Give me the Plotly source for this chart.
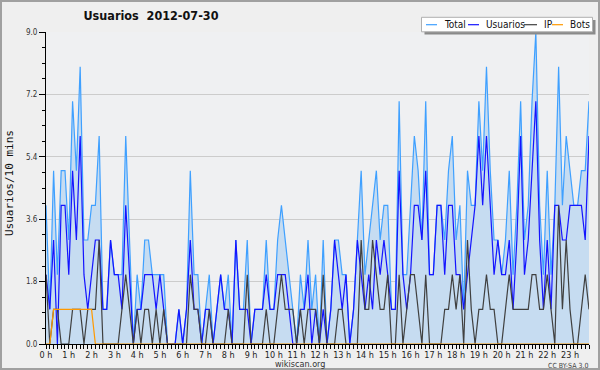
import plotly.graph_objects as go

# ---- data (10-minute slots over the day) ----
minutes = list(range(0, 1440, 10))
total = [4,1,5,2,5,5,3,7,5,8, 3,3,4,4,6,1,1,3,2,2,
         2,6,3,0,2,1,3,3,2,2, 2,2,0,0,0,1,0,1,5,2,
         2,0,1,2,0,1,2,1,2,0, 3,1,1,3,0,1,1,1,3,1,
         1,3,4,3,2,1,0,2,1,3, 1,2,0,3,0,1,3,3,2,2,
         0,1,3,5,2,3,4,5,3,4, 4,1,1,7,2,2,4,6,5,3,
         7,2,2,4,4,3,5,6,3,4, 1,5,4,4,7,5,8,5,3,3,
         2,3,5,2,4,7,3,4,7,9, 4,2,5,2,4,8,4,6,5,4,
         4,5,5,7]
usuarios = [2,1,3,0,4,4,2,5,3,6, 2,1,2,3,3,1,1,3,2,2,
            1,4,2,0,1,1,2,2,2,1, 2,1,0,0,0,1,0,1,3,1,
            1,0,1,1,0,1,2,1,1,0, 3,1,1,1,0,1,1,1,2,1,
            1,2,2,2,1,0,0,1,1,2, 0,1,0,1,0,1,3,2,1,2,
            0,1,3,2,1,2,1,3,2,3, 2,1,1,5,2,1,2,4,4,3,
            5,2,2,4,4,2,4,4,2,2, 1,2,3,4,6,4,6,4,2,3,
            2,2,3,1,3,6,2,3,5,7, 3,1,3,1,4,4,3,3,4,4,
            4,4,3,6]
ip = [2,0,1,1,0,0,0,1,1,1, 0,1,1,1,3,0,0,0,0,0,
      1,2,1,0,1,0,1,1,0,1, 0,1,0,0,0,0,0,0,2,1,
      1,0,0,1,0,0,0,0,1,0, 0,0,0,2,0,0,0,0,1,0,
      0,1,2,1,1,1,0,1,0,1, 1,1,0,2,0,0,0,1,1,0,
      0,0,0,3,1,1,3,2,1,1, 2,0,0,2,0,1,2,2,1,0,
      2,0,0,0,0,1,1,2,1,2, 0,3,1,0,1,1,2,1,1,0,
      0,1,2,1,1,1,1,1,2,2, 1,1,2,1,0,4,1,3,1,0,
      0,1,2,1]
bots = [0,0,1,1,1,1,1,1,1,1, 1,1,1,0,0,0,0,0,0,0] + [0] * 124
hour_ticks = list(range(24))
hour_labels = [f"{h} h" for h in hour_ticks]
series_names = ["Total", "Usuarios", "IP", "Bots"]
series_colors = ["#3fa0ff", "#1414ff", "#404040", "#ff9900"]

x = [m / 60 for m in minutes]

# ---- geometry helpers (pixel -> paper) ----
L, R, T, B = 46, 11, 32, 26
W, H = 600, 370
PW, PH = W - L - R, H - T - B
def px(xp): return (xp - L) / PW
def py(yp): return (H - B - yp) / PH

FONT = "DejaVu Sans Condensed, DejaVu Sans, sans-serif"

fig = go.Figure()
for name, ys, col in zip(series_names, [total, usuarios, ip, bots], series_colors):
    kw = {}
    if name == "Total":
        kw = dict(fill="tozeroy", fillcolor="#c6dcf1")
    fig.add_trace(go.Scatter(x=x, y=ys, mode="lines", name=name,
                             line=dict(color=col, width=1.2), showlegend=False, **kw))

fig.update_layout(
    width=W, height=H, autosize=False, showlegend=False,
    margin=dict(l=L, r=R, t=T, b=B, autoexpand=False),
    paper_bgcolor="#efefef", plot_bgcolor="#eff0f2",
    title=dict(text="<b>Usuarios  2012-07-30</b>", x=151 / W, y=1 - 16 / H,
               xanchor="center", yanchor="middle",
               font=dict(family=FONT, size=12.5, color="#111")),
    xaxis=dict(range=[0, 143 / 6], tickmode="array", tickvals=hour_ticks, ticktext=hour_labels,
               ticks="outside", ticklen=4, tickcolor="black", showline=True, linecolor="black",
               linewidth=1, showgrid=False, zeroline=False, automargin=False,
               ticklabelstandoff=-2,
               tickfont=dict(family=FONT, size=9, color="#222"),
               minor=dict(ticks="outside", ticklen=4, tickmode="linear", tick0=0, dtick=1 / 6,
                          tickcolor="black", showgrid=False)),
    yaxis=dict(range=[0, 9], tickmode="linear", tick0=0, dtick=1.8, tickformat=".1f",
               ticks="outside", ticklen=6, tickcolor="black", showline=True, linecolor="black",
               linewidth=1, showgrid=True, gridcolor="#cccccc", zeroline=False, automargin=False,
               tickfont=dict(family=FONT, size=8, color="#333"),
               minor=dict(ticks="outside", ticklen=3, tickmode="linear", tick0=0, dtick=0.45,
                          tickcolor="black", showgrid=False)),
)

shapes = []
annotations = []
# outer frame
shapes.append(dict(type="rect", xref="paper", yref="paper",
                   x0=px(1), x1=px(W - 1), y0=py(H - 1), y1=py(1),
                   line=dict(color="#a0a0a0", width=2), layer="above"))
# legend box with shadow
shapes.append(dict(type="rect", xref="paper", yref="paper",
                   x0=px(424.5), x1=px(595.5), y0=py(34.5), y1=py(20),
                   fillcolor="#8a8a8a", line=dict(width=0), layer="above"))
shapes.append(dict(type="rect", xref="paper", yref="paper",
                   x0=px(421.5), x1=px(592.5), y0=py(31.8), y1=py(17.3),
                   fillcolor="white", line=dict(color="#b0b0b0", width=1), layer="above"))
leg_items = [(426, 437, 442), (468, 479, 484), (524, 537, 541.5), (552, 563, 568)]
for (lx0, lx1, tx), name, col in zip(leg_items, series_names, series_colors):
    shapes.append(dict(type="line", xref="paper", yref="paper",
                       x0=px(lx0), x1=px(lx1), y0=py(24.7), y1=py(24.7),
                       line=dict(color=col, width=1.2), layer="above"))
    annotations.append(dict(text=name, xref="paper", yref="paper", x=px(tx), y=py(24.7),
                            xanchor="left", yanchor="middle", showarrow=False,
                            font=dict(family=FONT, size=10, color="#111")))
# axis title and footer texts
annotations.append(dict(text="Usuarios/10 mins", xref="paper", yref="paper",
                        x=px(10), y=py(183), textangle=-90, showarrow=False,
                        xanchor="center", yanchor="middle",
                        font=dict(family="DejaVu Sans Mono, monospace", size=11, color="#111")))
annotations.append(dict(text="wikiscan.org", xref="paper", yref="paper",
                        x=px(300), y=py(364), showarrow=False, xanchor="center", yanchor="middle",
                        font=dict(family=FONT, size=9, color="#333")))
annotations.append(dict(text="CC BY-SA 3.0", xref="paper", yref="paper",
                        x=px(590), y=py(365.5), showarrow=False, xanchor="right", yanchor="middle",
                        font=dict(family=FONT, size=7, color="#444")))
fig.update_layout(shapes=shapes, annotations=annotations)

fig.write_html("out.html", config={"displayModeBar": False},
               post_script="document.body.style.margin='0';document.body.style.overflow='hidden';")
